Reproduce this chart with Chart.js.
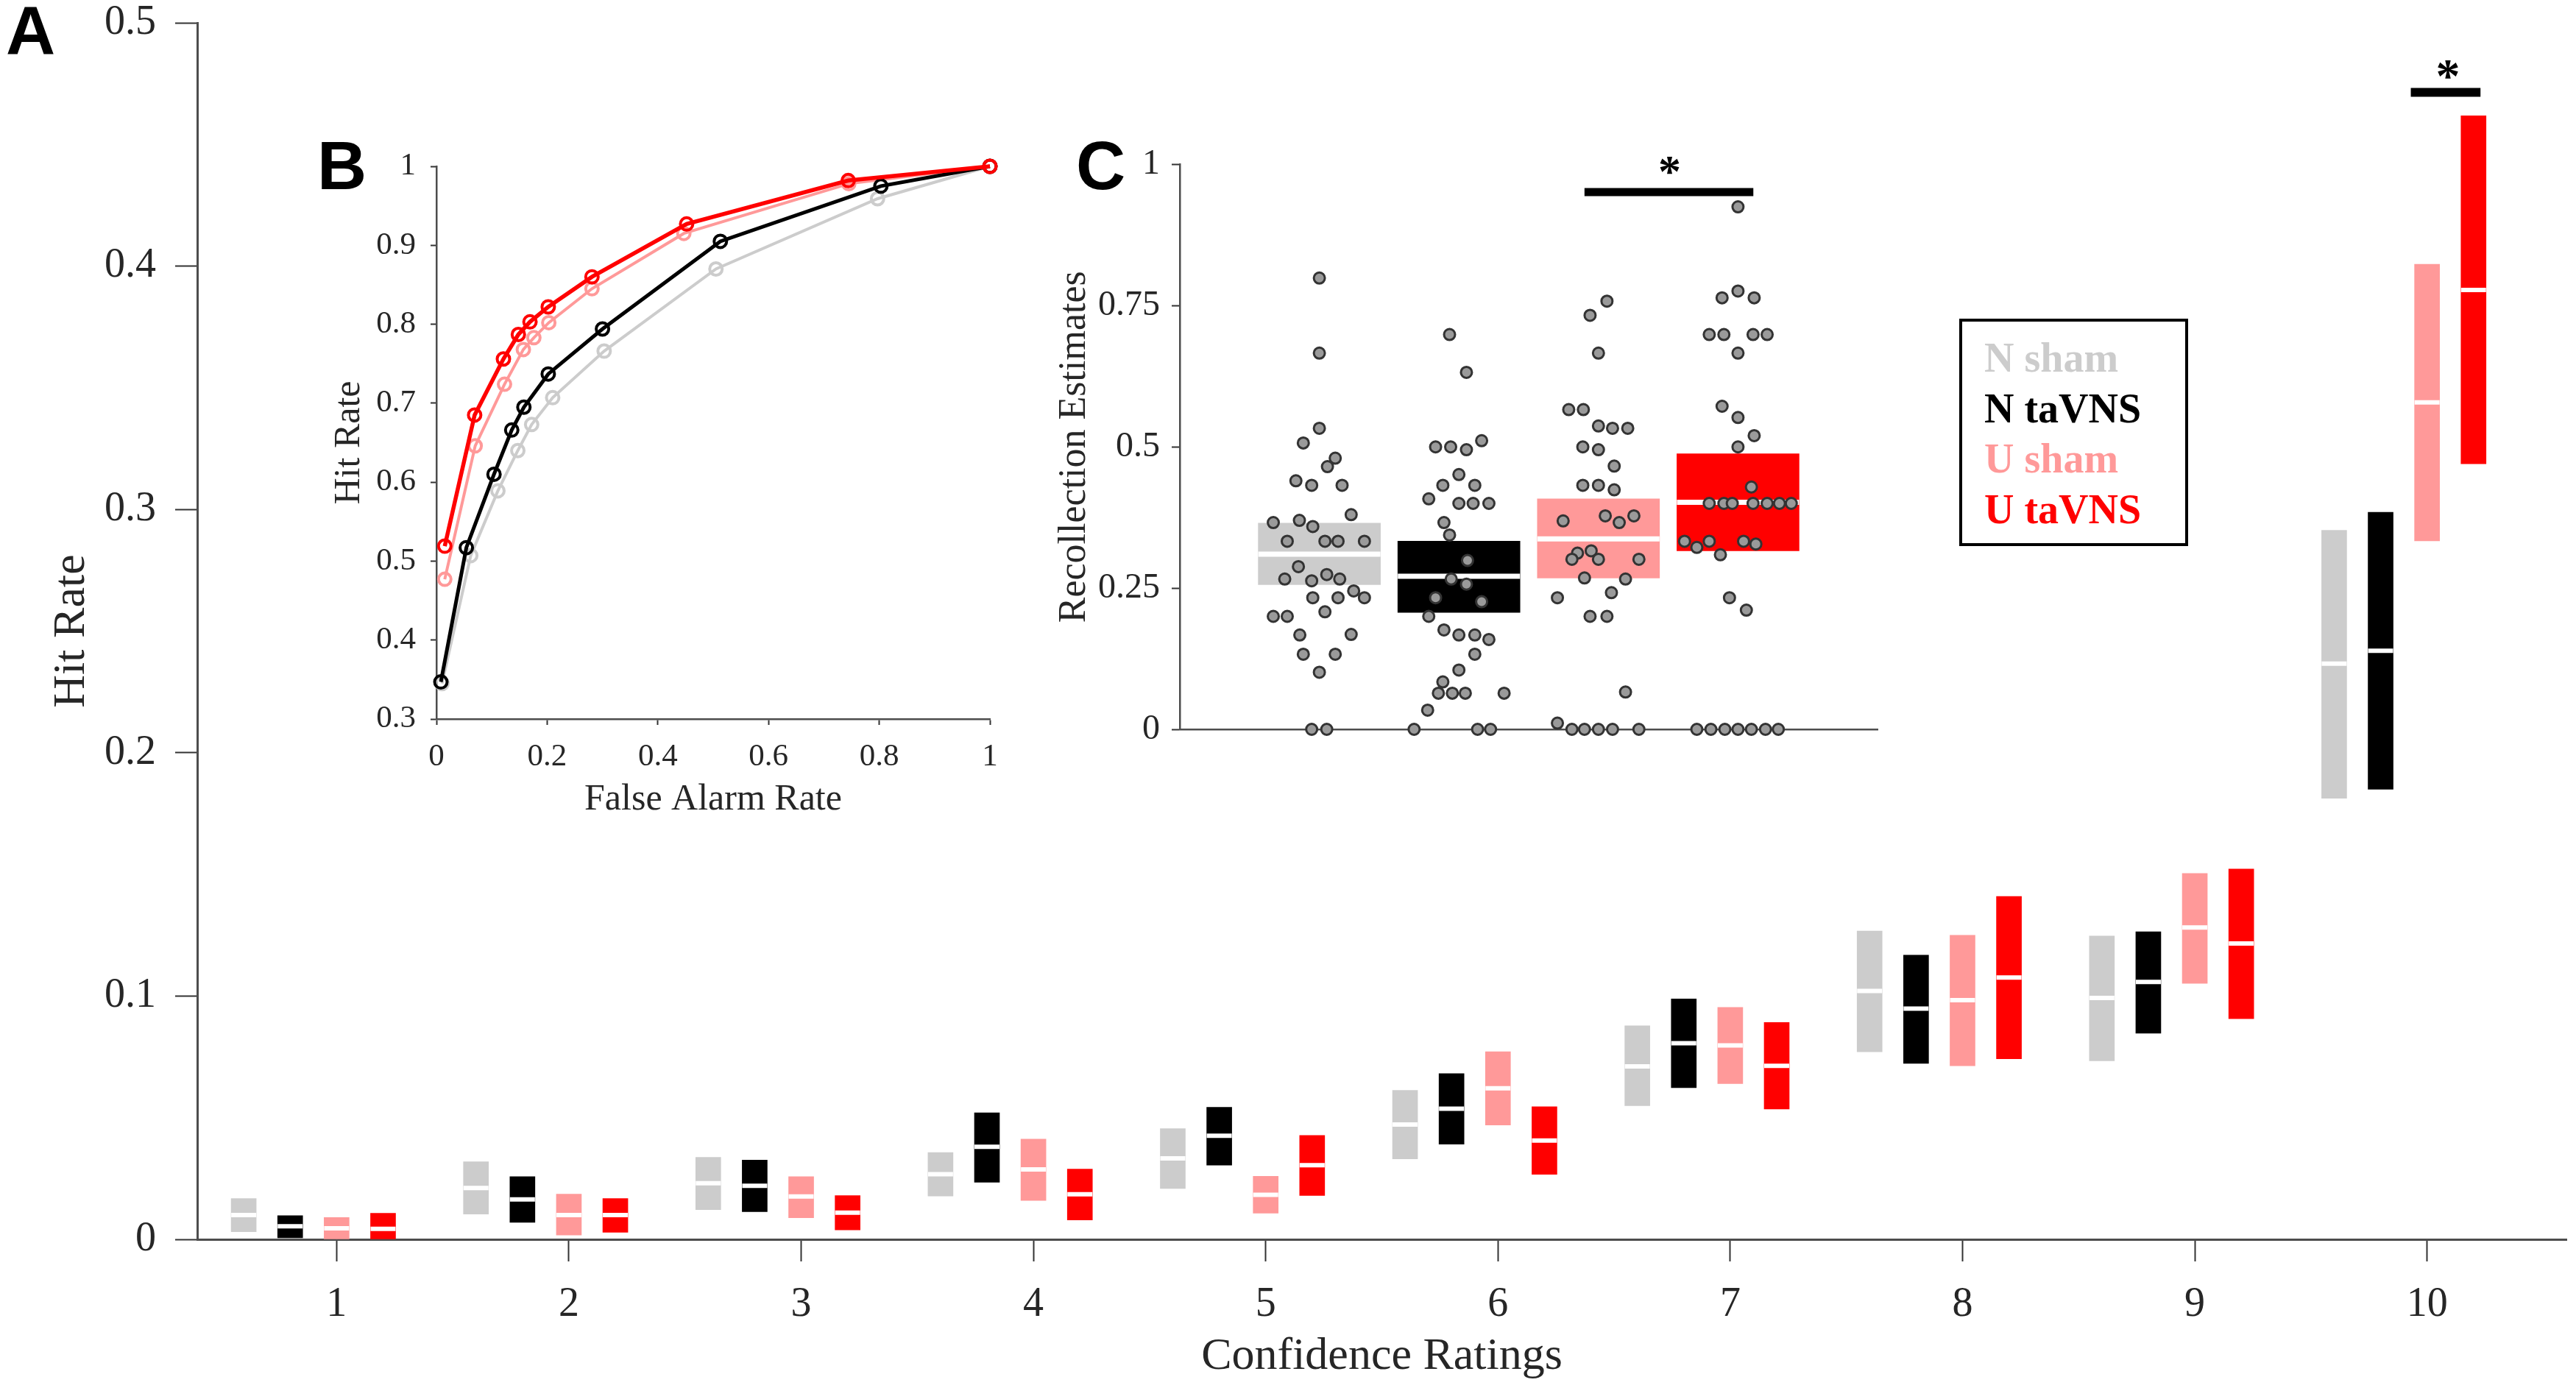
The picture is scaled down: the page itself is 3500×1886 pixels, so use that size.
<!DOCTYPE html>
<html>
<head>
<meta charset="utf-8">
<script src="https://cdn.jsdelivr.net/npm/chart.js@4.4.1/dist/chart.umd.min.js"></script>
<style>
  html, body { margin: 0; padding: 0; background: #fff; }
  #wrap { position: relative; width: 3500px; height: 1886px; }
  canvas { position: absolute; }
</style>
</head>
<body>
<div id="wrap">
  <canvas id="mainChart" width="3500" height="1886" style="left:0;top:0"></canvas>
  <canvas id="rocChart" width="1000" height="960" style="left:380px;top:160px"></canvas>
  <canvas id="recChart" width="1220" height="880" style="left:1380px;top:160px"></canvas>
</div>
<script>
const serif = "'Liberation Serif', 'Times New Roman', serif";
const sans = "'Liberation Sans', Arial, sans-serif";

const ratings = [1, 2, 3, 4, 5, 6, 7, 8, 9, 10];
const groupNames = ['N sham', 'N taVNS', 'U sham', 'U taVNS'];
const groupColors = ['#cccccc', '#000000', '#ff9999', '#ff0000'];

// panel A: hit rate by confidence rating (lower edge, mean, upper edge)
const nShamLow  = [0.0031, 0.0104, 0.0122, 0.0178, 0.0209, 0.0331, 0.0549, 0.0771, 0.0734, 0.1813];
const nShamMean = [0.0100, 0.0211, 0.0231, 0.0268, 0.0333, 0.0472, 0.0711, 0.1021, 0.0992, 0.2366];
const nShamHigh = [0.0168, 0.0319, 0.0337, 0.0357, 0.0455, 0.0612, 0.0878, 0.1267, 0.1247, 0.2914];
const nTaLow    = [0.0006, 0.0070, 0.0114, 0.0235, 0.0305, 0.0391, 0.0623, 0.0723, 0.0847, 0.1850];
const nTaMean   = [0.0054, 0.0164, 0.0220, 0.0380, 0.0426, 0.0537, 0.0806, 0.0948, 0.1058, 0.2419];
const nTaHigh   = [0.0097, 0.0258, 0.0326, 0.0520, 0.0543, 0.0681, 0.0988, 0.1168, 0.1264, 0.2988];
const uShamLow  = [0.0000, 0.0018, 0.0089, 0.0160, 0.0108, 0.0470, 0.0640, 0.0713, 0.1052, 0.2871];
const uShamMean = [0.0045, 0.0100, 0.0176, 0.0287, 0.0183, 0.0621, 0.0797, 0.0983, 0.1282, 0.3440];
const uShamHigh = [0.0090, 0.0186, 0.0258, 0.0412, 0.0259, 0.0771, 0.0953, 0.1250, 0.1504, 0.4008];
const uTaLow    = [0.0000, 0.0029, 0.0039, 0.0080, 0.0180, 0.0267, 0.0536, 0.0742, 0.0907, 0.3188];
const uTaMean   = [0.0043, 0.0100, 0.0110, 0.0185, 0.0305, 0.0406, 0.0713, 0.1076, 0.1216, 0.3902];
const uTaHigh   = [0.0107, 0.0168, 0.0180, 0.0289, 0.0427, 0.0545, 0.0891, 0.1409, 0.1522, 0.4618];
const sigAX = [9.93, 10.23];
const sigAY = 0.4714;
const starA = [10.09, 0.481];

// panel B: ROC curves
const nShamFA = [0.010, 0.062, 0.111, 0.147, 0.172, 0.210, 0.303, 0.505, 0.797, 1];
const nShamHR = [0.345, 0.507, 0.589, 0.640, 0.673, 0.707, 0.766, 0.870, 0.959, 1];
const nTaFA   = [0.008, 0.054, 0.104, 0.136, 0.158, 0.202, 0.300, 0.513, 0.803, 1];
const nTaHR   = [0.347, 0.517, 0.610, 0.666, 0.695, 0.737, 0.794, 0.905, 0.975, 1];
const uShamFA = [0.015, 0.070, 0.123, 0.157, 0.176, 0.203, 0.281, 0.447, 0.745, 1];
const uShamHR = [0.477, 0.646, 0.724, 0.768, 0.783, 0.802, 0.845, 0.915, 0.978, 1];
const uTaFA   = [0.015, 0.069, 0.121, 0.148, 0.169, 0.202, 0.281, 0.452, 0.744, 1];
const uTaHR   = [0.519, 0.685, 0.756, 0.787, 0.803, 0.822, 0.860, 0.927, 0.982, 1];

// panel C: recollection estimates
const recGroups = [1, 2, 3, 4];
const recLow  = [0.256, 0.207, 0.268, 0.316];
const recMean = [0.310, 0.271, 0.337, 0.402];
const recHigh = [0.365, 0.333, 0.408, 0.488];
const nShamRecX = [1.0,1.0,1.0,0.885,1.114,1.058,0.832,0.945,1.163,1.228,0.67,0.857,0.953,0.77,1.04,1.134,1.323,0.85,0.752,0.945,1.053,1.146,1.246,0.953,1.134,1.323,1.04,0.67,0.77,0.86,1.228,0.885,1.114,1.0,0.945,1.053];
const nShamRecY = [0.799,0.666,0.533,0.507,0.480,0.465,0.440,0.432,0.432,0.380,0.366,0.370,0.359,0.333,0.333,0.333,0.333,0.288,0.266,0.263,0.274,0.266,0.245,0.233,0.233,0.233,0.208,0.200,0.200,0.167,0.168,0.133,0.133,0.101,0,0];
const nTaRecX = [1.933,2.054,1.833,1.941,2.054,2.163,2.0,1.885,2.114,1.784,2.0,2.102,2.215,1.893,1.933,2.062,1.945,2.054,1.833,2.163,1.784,1.893,2.0,2.114,2.215,2.114,2.0,1.885,1.853,1.953,2.046,2.324,1.776,1.679,2.134,2.227];
const nTaRecY = [0.699,0.632,0.500,0.500,0.495,0.511,0.451,0.432,0.432,0.408,0.400,0.400,0.400,0.366,0.344,0.299,0.266,0.257,0.233,0.226,0.200,0.176,0.167,0.167,0.159,0.133,0.105,0.084,0.064,0.064,0.064,0.064,0.034,0,0,0];
const uShamRecX = [3.061,2.94,3.0,2.787,2.892,3.0,3.101,3.21,2.888,3.0,3.113,2.888,3.0,3.113,3.049,3.254,2.747,3.149,2.85,2.948,2.81,3.0,3.29,2.9,3.194,3.093,2.706,2.94,3.061,3.194,2.706,2.81,2.9,3.0,3.101,3.29];
const uShamRecY = [0.758,0.733,0.666,0.566,0.566,0.537,0.533,0.533,0.500,0.495,0.466,0.432,0.432,0.424,0.378,0.378,0.369,0.366,0.312,0.316,0.301,0.301,0.301,0.268,0.266,0.242,0.233,0.200,0.200,0.066,0.011,0,0,0,0,0];
const uTaRecX = [4.0,3.886,4.0,4.116,3.794,3.899,4.108,4.209,4.0,3.886,4.0,4.116,4.0,4.096,3.794,3.899,3.959,4.108,4.209,4.297,4.382,3.617,3.794,4.04,4.128,3.705,3.874,3.939,4.06,3.705,3.806,3.906,4.0,4.096,4.197,4.289];
const uTaRecY = [0.925,0.764,0.776,0.764,0.699,0.699,0.699,0.699,0.666,0.572,0.552,0.520,0.500,0.429,0.400,0.400,0.400,0.400,0.400,0.400,0.400,0.333,0.333,0.333,0.328,0.322,0.309,0.233,0.211,0,0,0,0,0,0,0];
const sigCX = [2.9, 4.11];
const sigCY = 0.951;
const starC = [3.51, 0.999];

const axisColor = '#4d4d4d';
const textColor = '#262626';
const common = { responsive: false, animation: false, devicePixelRatio: 1, events: [] };
const plainNum = v => String(+Number(v).toFixed(2));

function yFixed(w) {
  return s => { s.width = w; s.paddingTop = 0; s.paddingBottom = 0; };
}
function xFixed(h) {
  return s => { s.height = h; s.paddingLeft = 0; s.paddingRight = 0; };
}

// ---------- panel A ----------
const offsets = [-0.4, -0.2, 0, 0.2];
const lows = [nShamLow, nTaLow, uShamLow, uTaLow];
const means = [nShamMean, nTaMean, uShamMean, uTaMean];
const highs = [nShamHigh, nTaHigh, uShamHigh, uTaHigh];

const mainSets = [];
groupNames.forEach((name, g) => {
  mainSets.push({
    type: 'bar', label: name, order: 3,
    data: ratings.map((r, i) => ({ x: r + offsets[g], y: [lows[g][i], highs[g][i]] })),
    backgroundColor: groupColors[g], borderWidth: 0,
    grouped: false, maxBarThickness: 34, barPercentage: 1, categoryPercentage: 1, clip: false
  });
  mainSets.push({
    type: 'scatter', label: name + ' mean', order: 2,
    data: ratings.map((r, i) => ({ x: r + offsets[g], y: means[g][i] })),
    pointStyle: 'line', pointRadius: 17, pointBorderColor: '#ffffff', pointBorderWidth: 6, clip: false
  });
});
mainSets.push({
  type: 'line', label: 'sig', order: 1,
  data: sigAX.map(v => ({ x: v, y: sigAY })),
  borderColor: '#000', borderWidth: 12, pointRadius: 0, borderCapStyle: 'butt', clip: false
});

const panelA = {
  id: 'panelA',
  afterDraw(chart) {
    const { ctx, scales: { x, y } } = chart;
    ctx.save();
    ctx.fillStyle = '#000';
    ctx.font = 'bold 66px ' + serif;
    ctx.textAlign = 'center';
    ctx.textBaseline = 'alphabetic';
    ctx.fillText('*', x.getPixelForValue(starA[0]), y.getPixelForValue(starA[1]) + 31);

    // legend
    ctx.lineWidth = 4;
    ctx.strokeStyle = '#000';
    ctx.strokeRect(2664, 435, 307, 305);
    ctx.font = 'bold 56px ' + serif;
    ctx.textAlign = 'left';
    groupNames.forEach((n, i) => {
      ctx.fillStyle = groupColors[i];
      ctx.fillText(n, 2696, 505 + i * 68.5);
    });

    // panel letters
    ctx.fillStyle = '#000';
    ctx.font = 'bold 93px ' + sans;
    ctx.fillText('A', 8, 73);
    ctx.fillText('B', 431, 257);
    ctx.fillText('C', 1462, 257);
    ctx.restore();
  }
};

new Chart(document.getElementById('mainChart'), {
  type: 'bar',
  data: { datasets: mainSets },
  plugins: [panelA],
  options: {
    ...common,
    layout: { autoPadding: false, padding: { top: 31, right: 13, bottom: 0, left: 0 } },
    plugins: { legend: { display: false }, tooltip: { enabled: false } },
    scales: {
      x: {
        type: 'linear', min: 0.4, max: 10.6, offset: false,
        afterBuildTicks: s => { s.ticks = ratings.map(v => ({ value: v })); },
        afterFit: xFixed(202),
        grid: { offset: false, drawOnChartArea: false, tickLength: 30, tickColor: '#333', tickWidth: 2 },
        border: { color: axisColor, width: 3 },
        ticks: { font: { family: serif, size: 56 }, color: textColor, padding: 26, maxRotation: 0, autoSkip: false },
        title: { display: true, text: 'Confidence Ratings', font: { family: serif, size: 62 }, color: textColor, padding: { top: 0, bottom: 5 } }
      },
      y: {
        type: 'linear', min: 0, max: 0.5,
        afterFit: yFixed(268),
        grid: { drawOnChartArea: false, tickLength: 30, tickColor: '#333', tickWidth: 2 },
        border: { color: axisColor, width: 3 },
        ticks: { stepSize: 0.1, font: { family: serif, size: 56 }, color: textColor, padding: 26, callback: plainNum },
        title: { display: true, text: 'Hit Rate', font: { family: serif, size: 62 }, color: textColor, padding: { top: 61, bottom: 0 } }
      }
    }
  }
});

// ---------- panel B ----------
const rocFA = [nShamFA, nTaFA, uShamFA, uTaFA];
const rocHR = [nShamHR, nTaHR, uShamHR, uTaHR];
const rocOrder = [4, 2, 3, 1];
const rocWidth = [4, 5, 4, 5.5];
const rocSets = groupNames.map((name, g) => ({
  label: name, order: rocOrder[g],
  data: rocFA[g].map((v, i) => ({ x: v, y: rocHR[g][i] })),
  showLine: true, borderColor: groupColors[g], borderWidth: rocWidth[g],
  pointRadius: 8.5, pointBorderWidth: 4, pointBorderColor: groupColors[g],
  pointBackgroundColor: 'rgba(0,0,0,0)', clip: false
}));

new Chart(document.getElementById('rocChart'), {
  type: 'scatter',
  data: { datasets: rocSets },
  options: {
    ...common,
    layout: { autoPadding: false, padding: { top: 66, right: 35, bottom: 0, left: 0 } },
    plugins: { legend: { display: false }, tooltip: { enabled: false } },
    scales: {
      x: {
        min: 0, max: 1, afterFit: xFixed(143),
        grid: { drawOnChartArea: false, tickLength: 8, tickColor: '#333', tickWidth: 2 },
        border: { color: axisColor, width: 2.5 },
        ticks: { stepSize: 0.2, font: { family: serif, size: 43 }, color: textColor, padding: 18, maxRotation: 0, callback: plainNum },
        title: { display: true, text: 'False Alarm Rate', font: { family: serif, size: 50 }, color: textColor, padding: { top: 0, bottom: 3 } }
      },
      y: {
        min: 0.3, max: 1, afterFit: yFixed(213),
        grid: { drawOnChartArea: false, tickLength: 8, tickColor: '#333', tickWidth: 2 },
        border: { color: axisColor, width: 2.5 },
        ticks: { stepSize: 0.1, font: { family: serif, size: 43 }, color: textColor, padding: 20, callback: plainNum },
        title: { display: true, text: 'Hit Rate', font: { family: serif, size: 50 }, color: textColor, padding: { top: 65, bottom: 0 } }
      }
    }
  }
});

// ---------- panel C ----------
const recX = [nShamRecX, nTaRecX, uShamRecX, uTaRecX];
const recY = [nShamRecY, nTaRecY, uShamRecY, uTaRecY];
const recSets = [{
  type: 'bar', label: 'box', order: 4,
  data: recGroups.map((c, i) => ({ x: c, y: [recLow[i], recHigh[i]] })),
  backgroundColor: groupColors, borderWidth: 0,
  grouped: false, maxBarThickness: 166, barPercentage: 1, categoryPercentage: 1
}, {
  type: 'scatter', label: 'mean', order: 3,
  data: recGroups.map((c, i) => ({ x: c, y: recMean[i] })),
  pointStyle: 'line', pointRadius: 83, pointBorderColor: '#ffffff', pointBorderWidth: 7, clip: false
}, {
  type: 'line', label: 'sig', order: 2,
  data: sigCX.map(v => ({ x: v, y: sigCY })),
  borderColor: '#000', borderWidth: 11, pointRadius: 0, borderCapStyle: 'butt', clip: false
}];
groupNames.forEach((name, g) => {
  recSets.push({
    type: 'scatter', label: name, order: 1,
    data: recX[g].map((v, i) => ({ x: v, y: recY[g][i] })),
    pointRadius: 7.5, pointBorderWidth: 3, pointBackgroundColor: '#9a9a9a', pointBorderColor: '#333333', clip: false
  });
});

const panelC = {
  id: 'panelC',
  afterDraw(chart) {
    const { ctx, scales: { x, y } } = chart;
    ctx.save();
    ctx.fillStyle = '#000';
    ctx.font = 'bold 62px ' + serif;
    ctx.textAlign = 'center';
    ctx.textBaseline = 'alphabetic';
    ctx.fillText('*', x.getPixelForValue(starC[0]), y.getPixelForValue(starC[1]) + 29);
    ctx.restore();
  }
};

new Chart(document.getElementById('recChart'), {
  type: 'bar',
  data: { datasets: recSets },
  plugins: [panelC],
  options: {
    ...common,
    layout: { autoPadding: false, padding: { top: 63.5, right: 49, bottom: 0, left: 0 } },
    plugins: { legend: { display: false }, tooltip: { enabled: false } },
    scales: {
      x: {
        type: 'linear', min: 0, max: 5, offset: false, afterFit: xFixed(49),
        grid: { display: false },
        border: { color: axisColor, width: 2.5 },
        ticks: { display: false, stepSize: 1 }
      },
      y: {
        type: 'linear', min: 0, max: 1, afterFit: yFixed(223),
        grid: { drawOnChartArea: false, tickLength: 11, tickColor: '#333', tickWidth: 2 },
        border: { color: axisColor, width: 2.5 },
        ticks: { stepSize: 0.25, font: { family: serif, size: 48 }, color: textColor, padding: 16, callback: plainNum },
        title: { display: true, text: 'Recollection Estimates', font: { family: serif, size: 52 }, color: textColor, padding: { top: 49, bottom: 0 } }
      }
    }
  }
});
</script>
</body>
</html>
